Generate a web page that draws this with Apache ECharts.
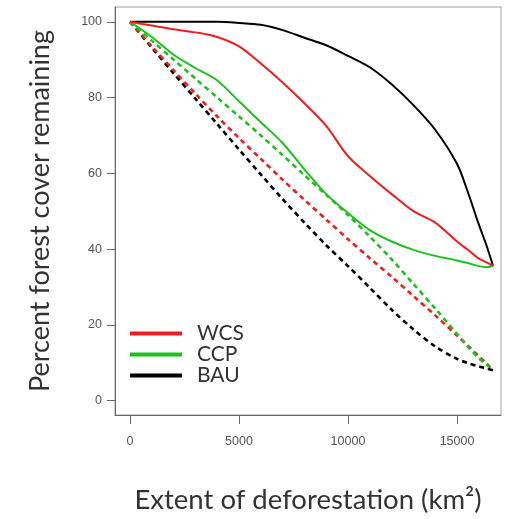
<!DOCTYPE html>
<html>
<head>
<meta charset="utf-8">
<script src="https://cdn.jsdelivr.net/npm/echarts@6/dist/echarts.min.js"></script>
<style>html,body{margin:0;padding:0;background:#fff}#c{width:505px;height:519px}</style>
</head>
<body>
<div id="c"></div>
<script>
var xs = [0,1000,2000,3000,4000,5000,6000,7000,8000,9000,10000,11000,12000,13000,14000,15000,15500,16000,16350,16650];
var wcsSolid = [100,99,98,97.2,96,93.5,89,84,78.5,72.5,64.5,59.3,54.5,50,47,42,39.8,37.5,36.5,35.6];
var ccpSolid = [100,96,91.3,87.8,84.5,79,73.5,68,61,54.5,49.5,45,42,39.8,38.2,37,36.3,35.5,35.2,35.6];
var bauSolid = [100,100,100,100,100,99.7,99.2,97.8,95.8,93.8,91,88,83.5,78,71.5,62.5,55,46.5,41,35.6];
var wcsDash = [100,93.5,87.2,81,75,69.3,63.8,58.3,53,47.8,42.6,37.6,32.7,27.6,22.5,17.2,14.5,11.7,9.8,8];
var ccpDash = [100,95,90,85,80,75,70,64.8,59.5,54.3,49,43.3,37.3,30.8,24.3,17.6,14.2,11.2,9.5,8];
var bauDash = [100,93.2,86.4,79.7,73,66.3,59.7,53.2,47,41,35.5,29.8,24,18.8,14.3,11,9.9,9,8.5,8];
var xTicks = [0,5000,10000,15000];
var yTicks = [0,20,40,60,80,100];
var names = ['WCS','CCP','BAU'];

function pairs(v){ return xs.map(function(x,i){ return [x, v[i]]; }); }
var RED = '#f01e1e', GREEN = '#1fc01f', BLACK = '#000000';

function solid(name, v, color){
  return {name:name, type:'line', data:pairs(v), showSymbol:false, smooth:0.3,
    lineStyle:{color:color, width:2}, itemStyle:{color:color}, z:3};
}
function dashed(name, v, color){
  return {name:name, type:'line', data:pairs(v), showSymbol:false, smooth:0.3,
    lineStyle:{color:color, width:2.6, type:[5,4]}, itemStyle:{color:color}, z:2};
}

var chart = echarts.init(document.getElementById('c'));
chart.setOption({
  animation:false,
  backgroundColor:'#fff',
  grid:{left:115, top:7, right:4, bottom:100, show:true, borderColor:'#a0a0a0', borderWidth:1},
  legend:{
    data:names, orient:'vertical', left:125, top:318,
    icon:'rect', itemWidth:52, itemHeight:4, itemGap:0,
    textStyle:{fontFamily:'Lato', fontSize:21, color:'#333', lineHeight:21, padding:[0,0,0,10]}
  },
  xAxis:{
    type:'value', min:-688, max:17018,
    axisLine:{show:true, onZero:false, lineStyle:{color:'#666', width:1}},
    axisTick:{show:true, length:9, customValues:xTicks, lineStyle:{color:'#666'}},
    axisLabel:{customValues:xTicks, margin:20, fontFamily:'Liberation Sans', fontSize:12.5, color:'#555',
      formatter:function(v){ return String(v); }},
    splitLine:{show:false},
    name:'Extent of deforestation (km²)', nameLocation:'middle', nameGap:71,
    nameTextStyle:{fontFamily:'Lato', fontSize:27.5, color:'#333'}
  },
  yAxis:{
    type:'value', min:-3.8, max:103.9,
    axisLine:{show:true, onZero:false, lineStyle:{color:'#666', width:1}},
    axisTick:{show:true, length:8, customValues:yTicks, lineStyle:{color:'#666'}},
    axisLabel:{customValues:yTicks, margin:13, fontFamily:'Liberation Sans', fontSize:12.5, color:'#555',
      formatter:function(v){ return String(v); }},
    splitLine:{show:false},
    name:'Percent forest cover remaining', nameLocation:'middle', nameGap:61,
    nameTextStyle:{fontFamily:'Lato', fontSize:27, color:'#333'}
  },
  series:[
    dashed('BAU ', bauDash, BLACK),
    dashed('WCS ', wcsDash, RED),
    dashed('CCP ', ccpDash, GREEN),
    solid('BAU', bauSolid, BLACK),
    solid('CCP', ccpSolid, GREEN),
    solid('WCS', wcsSolid, RED)
  ]
});
</script>
</body>
</html>
